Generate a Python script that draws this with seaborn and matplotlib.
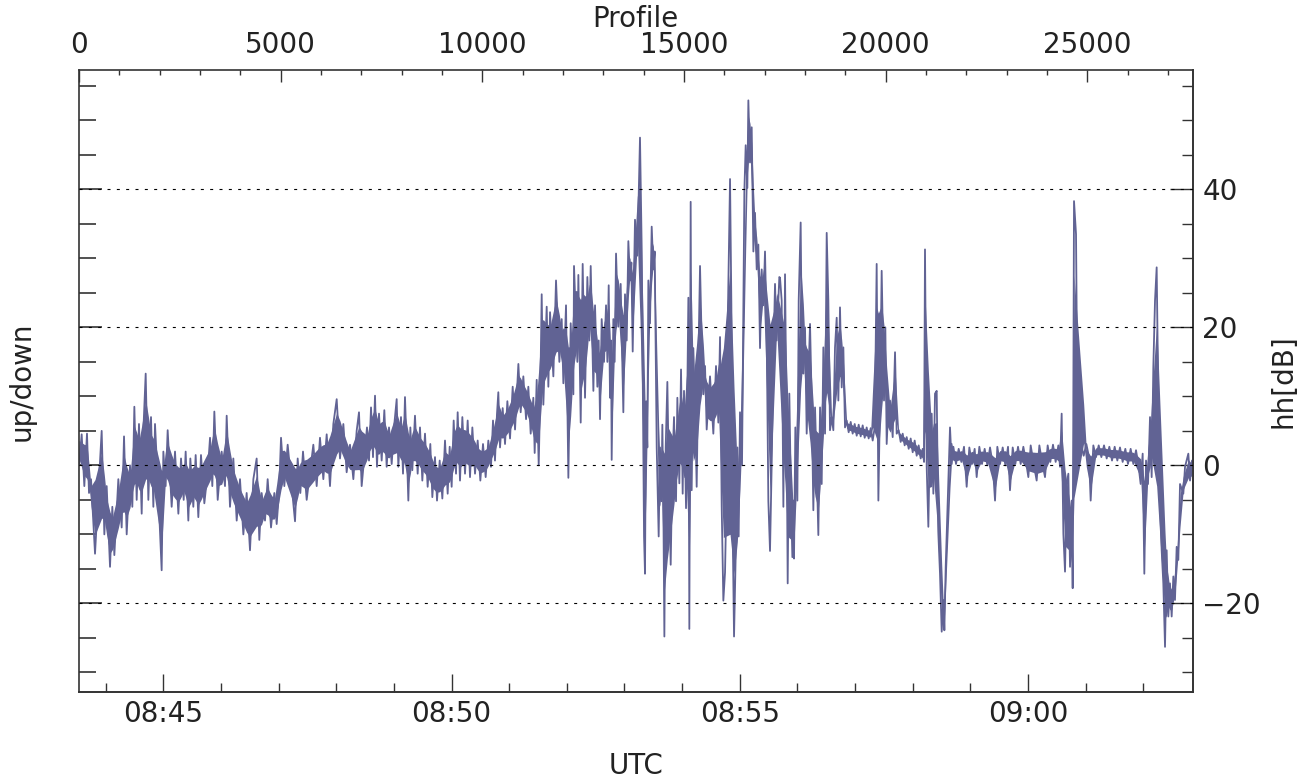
import numpy as np
import pandas as pd
import matplotlib
matplotlib.use("Agg")
import matplotlib.pyplot as plt
from matplotlib.ticker import FixedLocator, MultipleLocator, FuncFormatter, NullFormatter
import seaborn as sns

# time reference
PROF_0845 = 2090        # profile number at 08:45:00 UTC
PROF_PER_MIN = 1429.07  # profiles per minute
N_PROFILES = 27608

# hh [dB] turning points, segment by segment
prof_a = [0, 66, 132, 198, 248, 298, 397, 479, 562, 628,
          686, 769, 826, 876, 975, 1058, 1116, 1182, 1264, 1322,
          1372, 1430, 1487, 1554, 1595, 1653, 1719, 1785, 1843, 1884,
          1967, 2049, 2091, 2148, 2198, 2297, 2380, 2463, 2529, 2595,
          2644, 2710, 2760, 2834, 2892, 2958, 3024, 3107, 3190, 3248,
          3305, 3355, 3438, 3537, 3619, 3661, 3743, 3826, 3909, 3991,
          4074, 4156, 4239, 4322, 4404, 4470, 4528, 4611, 4677, 4760,
          4842, 4900, 4958, 5008, 5090, 5173, 5255, 5355, 5421, 5487,
          5553, 5644, 5727, 5809, 5892, 5974, 6057, 6140, 6222, 6305,
          6388, 6470, 6553, 6635, 6718, 6801, 6883, 6941, 7007]
hh_a = [0, 4.5, -3, 4.6, -4, -2, -12.8, -4, 5, -10,
        -3, -14.7, -6, -13, -2, -9, 4.2, -10, 0, -6,
        8.5, -5, 6, -7, 5, 13.3, -5, 7, -6, 6,
        -4, -15.2, 2, -3, 5.1, -6, 2, -7, 1, -5,
        2, -8, 1, -6, 1.5, -7.5, 1.5, -5.5, -1, 4,
        -3, 7.8, -5, 2, -3, 7.2, -6, 1, -8, -2,
        -10, -4, -12.3, -2, 1, -10.8, -4, -8, -2, -9,
        -4, -8.5, -4, 4, -3, 3, -2, -8.1, 1, -4,
        2, -5, -1, 3, -3, 4, -2, 4.5, -3, 6,
        9.6, 1, 6, -1, 3, -2, 5, 7.7, -3]

prof_b = [7139, 7189, 7239, 7288, 7338, 7387, 7437, 7503, 7569, 7627,
          7685, 7751, 7817, 7875, 7916, 7982, 8032, 8081, 8131, 8164,
          8214, 8263, 8329, 8395, 8453, 8511, 8577, 8643, 8709, 8759,
          8825, 8875, 8941, 9007, 9073, 9139, 9189, 9238, 9288, 9346,
          9387, 9445, 9503, 9569, 9635, 9693, 9751, 9817, 9883, 9949,
          10015, 10081, 10147, 10213, 10263, 10312, 10362, 10395]
hh_b = [5.5, 0.7, 8.4, 1.2, 10.1, -0.2, 7.5, 0.7, 8.0, -0.2,
        5.5, 0.2, 6.0, 9.6, -0.2, 7.0, -1.2, 9.9, 1.2, -5.1,
        5.5, -0.7, 7.2, -1.2, 5.5, -2.2, 4.6, -3.1, 3.1, -4.6,
        1.2, -5.1, 0.7, -4.8, 3.6, -4.1, 2.7, -3.1, 6.5, -1.2,
        7.7, -2.2, 7.0, -1.2, 6.5, -1.7, 5.5, -1.2, 3.6, -2.2,
        3.1, -1.7, 3.6, -0.2, 6.5, 0.7, 7.5, 10.6]

prof_c = [10437, 10503, 10561, 10619, 10685, 10751, 10809, 10892, 10949, 11015,
          11082, 11139, 11197, 11263, 11296, 11346, 11396, 11437, 11470, 11511,
          11594, 11635, 11677, 11759, 11825, 11908, 11966, 12007, 12073, 12131,
          12189, 12255, 12271, 12354, 12379, 12437, 12486, 12544, 12602, 12651,
          12685, 12751, 12792, 12850, 12883, 12916, 12957, 13015, 13065, 13098,
          13131, 13164, 13189, 13205, 13246, 13279, 13313, 13370, 13428, 13494,
          13535, 13577, 13618, 13660, 13693, 13726, 13783, 13841, 13907, 13949,
          14007, 14031, 14056, 14089, 14114, 14155, 14197, 14238, 14271, 14321,
          14370, 14403, 14436, 14461, 14486, 14511, 14544, 14585, 14626, 14668,
          14709, 14750, 14800, 14833, 14882, 14924, 14965, 14998, 15048, 15106,
          15130, 15163, 15188, 15229, 15271, 15312, 15370, 15395, 15436, 15477,
          15519, 15560, 15643, 15725, 15791, 15849, 15891, 15932, 15973, 16015,
          16056, 16089, 16139, 16172, 16196, 16238, 16287, 16320, 16353, 16386,
          16436, 16494, 16527, 16568, 16593, 16634, 16676, 16717, 16758, 16800,
          16841, 16882, 16924, 16965, 17006, 17047, 17089, 17130, 17171, 17213,
          17254, 17295, 17361]
hh_c = [2.6, 8.3, 3.1, 9.3, 3.9, 11.4, 5.2, 14.7, 7.7, 12.9,
        6.7, 11.4, 4.6, 9.8, 1.8, 12.4, 0, 11.4, 24.8, 8.8,
        23.0, 11.4, 22.2, 12.9, 26.8, 15.0, 21.2, 11.9, 23.2, -1.8,
        20.6, 10.3, 28.9, 15.0, 27.6, 6.2, 29.2, 9.8, 27.3, 18.1,
        28.9, 10.8, 23.2, 11.4, 18.1, 6.7, 21.2, 15.0, 23.2, 15.0,
        26.1, 9.8, 18.1, 0.8, 21.2, 15.0, 30.7, 20.1, 26.3, 7.7,
        24.8, 18.1, 32.5, 26.8, 29.4, 16.5, 35.6, 30.4, 47.5, 31.5,
        -10.3, -15.7, 9.3, 2.6, 26.8, 20.6, 34.6, 28.4, 31.0, 2.6,
        -10.3, 2.6, -5.2, 5.9, -5.7, -24.8, 2.6, 12.1, -2.6, -14.4,
        0, 7.0, -5.2, 9.8, -2.6, 13.9, -4.1, 10.8, -6.2, 24.3,
        -23.7, 38.2, -3.6, 17.0, 8.8, -3.1, 20.6, 28.9, 18.1, 10.3,
        14.4, 5.2, 12.9, 4.6, 14.4, 6.2, 18.6, -5.9, -19.6, -15.5,
        -2.6, 23.2, 41.5, 23.2, -5.2, -24.8, -10.8, 2.6, -10.3, 7.7,
        0, 39.7, 46.4, 40.2, 52.9, 43.9, 49.0, 31.0, 36.6, 28.4,
        32.0, 17.0, 28.4, 23.2, 31.0, 19.1, -5.2, -12.4, 0, 15.5,
        26.3, 18.1, 27.3]

prof_d = [17378, 17419, 17461, 17502, 17543, 17568, 17609, 17651, 17684, 17709,
          17725, 17758, 17808, 17841, 17890, 17923, 17956, 17998, 18039, 18080,
          18122, 18163, 18204, 18246, 18287, 18328, 18370, 18411, 18452, 18494,
          18535, 18576, 18617, 18659, 18700, 18741, 18783, 18824, 18865, 18907,
          18948, 18989, 19031, 19080, 19130, 19179, 19229, 19279, 19328, 19378,
          19427, 19477, 19526, 19576, 19626, 19675, 19725, 19774, 19816, 19857,
          19898, 19956, 19989, 20022, 20063, 20105, 20171, 20229, 20270, 20320,
          20369, 20419, 20468, 20518, 20568, 20617, 20667, 20716, 20766, 20815,
          20865, 20915, 20948, 20972, 21014, 21055, 21096, 21138, 21179, 21220,
          21262, 21303, 21344, 21386, 21427, 21452, 21485, 21510, 21551, 21592,
          21634, 21675, 21741, 21807, 21873, 21939, 22005, 22071, 22137, 22203,
          22253, 22319, 22385, 22451, 22518, 22584, 22650, 22708, 22765, 22832,
          22898, 22964, 23030, 23079, 23146, 23212, 23278, 23344, 23410, 23476,
          23534, 23592, 23658, 23740, 23807, 23873, 23947, 24013, 24079, 24145,
          24211, 24278, 24319, 24360, 24402, 24443, 24484, 24526, 24567, 24608,
          24633, 24666, 24716, 24749, 24773, 24840, 24906, 24972, 25038, 25079,
          25145, 25211, 25278, 25344, 25410, 25476, 25542, 25608, 25674, 25740,
          25806, 25872, 25938, 26004, 26070, 26137, 26203, 26269, 26318, 26368,
          26409, 26451, 26500, 26550, 26591, 26632, 26674, 26715, 26756, 26798,
          26839, 26880, 26922, 26963, 27004, 27045, 27087, 27128, 27169, 27211,
          27252, 27294, 27376, 27418, 27500, 27542, 27591]
hh_d = [27.2, 23.9, -6.0, 27.7, 4.6, -17.1, 10.4, -5.1, -13.3, -5.1,
        -13.5, 5.5, -5.1, 23.9, 35.2, 14.2, 13.3, 20.0, 4.6, 12.3,
        20.5, 9.4, -6.5, 8.4, -0.2, -10.1, 8.4, -2.7, 17.1, 4.6,
        33.7, 23.9, 5.1, 7.0, 5.1, 17.1, 21.4, 9.4, 22.9, 11.3,
        17.1, 5.5, 6.5, 4.8, 6.3, 4.6, 6.0, 4.3, 5.9, 4.2,
        5.8, 4.0, 5.5, 3.9, 5.4, 3.6, 5.5, 29.2, -5.1, 9.4,
        28.2, 9.4, 20.0, 3.1, 8.4, 9.4, 4.1, 16.4, 4.6, 5.1,
        3.4, 4.6, 2.9, 4.1, 2.4, 3.9, 1.9, 3.6, 1.4, 2.9,
        1.0, 2.4, 0.5, 31.3, -0.2, -8.9, 4.6, 7.5, -4.1, 10.4,
        10.8, -9.9, -15.7, -24.1, -19.5, -23.9, -14.7, -9.9, -1.7, 5.5,
        0.2, 2.7, 0.2, 2.4, 0.5, 2.7, -3.1, 2.6, 0.2, 2.4,
        -1.7, 2.7, 0.2, 2.4, 0, 2.6, 0.2, -5.1, 2.7, 0.2,
        2.6, 0, 2.7, -3.6, 2.6, 0.2, 2.7, 0.2, 2.7, 0.5,
        -1.7, 2.9, 0.5, -2.2, 2.9, 0.5, -1.7, 2.9, 0.5, 3.0,
        0.5, 2.9, -0.2, 7.5, -9.9, -15.4, -2.7, -1.2, -14.7, -5.1,
        -17.8, 38.3, 33.5, 9.4, 4.6, 3.1, 1.4, 3.1, 1.2, -5.1,
        2.9, 1.2, 2.9, 1.2, 2.9, 1.0, 2.7, 0.7, 2.7, 0.7,
        2.6, 0.5, 2.4, 0.2, 2.4, 0.2, 2.2, -0.2, -2.7, 1.7,
        -15.7, 0.7, -2.7, 7.0, -1.7, 14.2, 23.9, 28.7, 9.4, -5.1,
        -12.3, -17.1, -26.3, -12.3, -21.9, -17.1, -21.9, -16.1, -19.5, -11.8,
        -13.7, -2.7, -4.1, -0.2, 1.7, -2.2, 0.7]

df = pd.DataFrame({"profile": prof_a + prof_b + prof_c + prof_d,
                   "hh": hh_a + hh_b + hh_c + hh_d})

# inner part of the band between local maxima and minima: the solid core of the
# dense trace; the zig-zag line itself gives the ragged edges on top of it
y = df["hh"].to_numpy()
x = df["profile"].to_numpy()
prev = np.r_[y[0], y[:-1]]
nxt = np.r_[y[1:], y[-1]]
is_max = (y >= prev) & (y >= nxt)
is_min = (y <= prev) & (y <= nxt)
upper = np.interp(x, x[is_max], y[is_max])
lower = np.interp(x, x[is_min], y[is_min])
mid = (upper + lower) / 2
half = np.abs(upper - lower) / 2
df["core_lo"] = mid - 0.6 * half
df["core_hi"] = mid + 0.6 * half


def prof2min(p):
    return 45 + (np.asarray(p, dtype=float) - PROF_0845) / PROF_PER_MIN


def min2prof(m):
    return PROF_0845 + (np.asarray(m, dtype=float) - 45) * PROF_PER_MIN


def hhmm(m, pos):
    m = int(round(m))
    return f"{8 + m // 60:02d}:{m % 60:02d}"


sns.set_style("ticks")
plt.rcParams["font.family"] = ["DejaVu Sans"]
plt.rcParams["axes.edgecolor"] = "#333333"
plt.rcParams["xtick.color"] = "#333333"
plt.rcParams["ytick.color"] = "#333333"
plt.rcParams["xtick.labelcolor"] = "#222222"
plt.rcParams["ytick.labelcolor"] = "#222222"
plt.rcParams["axes.labelcolor"] = "#222222"
FS = 20
LINE = "#616394"

fig = plt.figure(figsize=(13.13, 7.81), dpi=100)
ax = fig.add_axes([0.06017, 0.11434, 0.8482, 0.7960])

ax.fill_between(df["profile"], df["core_lo"], df["core_hi"], color=LINE, lw=0)
sns.lineplot(data=df, x="profile", y="hh", sort=False, estimator=None,
             color=LINE, lw=1.3, ax=ax)
for yv in (40, 20, 0, -20):
    ax.axhline(yv, color="black", lw=0.8, ls=(0, (2.7, 5.7)), zorder=5)

ax.set_xlim(0, N_PROFILES)
ax.set_ylim(-32.8, 57.3)
for s in ax.spines.values():
    s.set_linewidth(1.2)

# top axis: profile number
ax.xaxis.set_ticks_position("top")
ax.xaxis.set_label_position("top")
ax.xaxis.set_major_locator(MultipleLocator(5000))
ax.xaxis.set_minor_locator(MultipleLocator(1000))
ax.tick_params(axis="x", which="major", direction="in", length=8.6, width=1,
               pad=8, labelsize=FS)
ax.tick_params(axis="x", which="minor", direction="in", length=3.6, width=1)
ax.set_xlabel("Profile", fontsize=FS, labelpad=3)

# left axis: ticks only
ax.yaxis.set_major_locator(MultipleLocator(20))
ax.yaxis.set_minor_locator(MultipleLocator(5))
ax.yaxis.set_major_formatter(NullFormatter())
ax.tick_params(axis="y", which="major", direction="in", length=16.5, width=1.2)
ax.tick_params(axis="y", which="minor", direction="in", length=12, width=1.2)
ax.set_ylabel("up/down", fontsize=FS, labelpad=28)

# right axis: hh[dB]
rax = ax.secondary_yaxis("right")
rax.yaxis.set_major_locator(MultipleLocator(20))
rax.yaxis.set_minor_locator(MultipleLocator(5))
rax.tick_params(which="major", direction="in", length=16.5, width=1, pad=7,
                labelsize=FS)
rax.tick_params(which="minor", direction="in", length=8, width=1)
rax.spines["right"].set_linewidth(1.2)
rax.set_ylabel("hh[dB]", fontsize=FS, labelpad=6)

# bottom axis: UTC
bax = ax.secondary_xaxis("bottom", functions=(prof2min, min2prof))
bax.xaxis.set_major_locator(FixedLocator([45, 50, 55, 60]))
bax.xaxis.set_minor_locator(FixedLocator(list(range(44, 63))))
bax.xaxis.set_major_formatter(FuncFormatter(hhmm))
bax.tick_params(which="major", direction="in", length=13, width=1, pad=6,
                labelsize=FS)
bax.tick_params(which="minor", direction="in", length=6.5, width=1)
bax.spines["bottom"].set_linewidth(1.2)
bax.set_xlabel("UTC", fontsize=FS, labelpad=17)

ax.set_zorder(1)
fig.savefig("out.png", dpi=100, facecolor="white")
